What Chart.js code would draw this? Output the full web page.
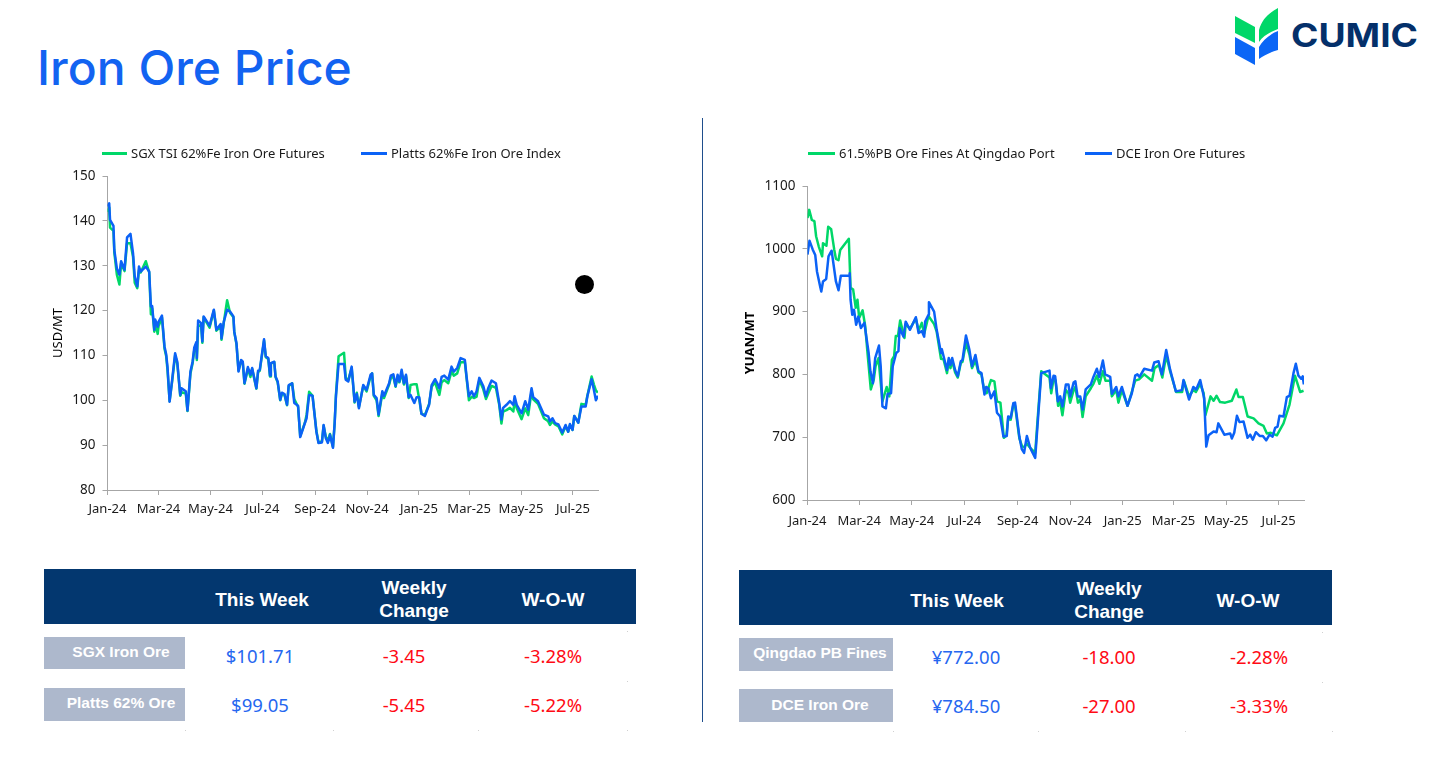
<!DOCTYPE html>
<html>
<head>
<meta charset="utf-8">
<title>Iron Ore Price</title>
<script src="https://cdn.jsdelivr.net/npm/chart.js"></script>
<style>
  html, body { margin: 0; padding: 0; background: #fff; }
  #page { position: relative; width: 1444px; height: 765px; overflow: hidden; font-family: "Noto Sans", sans-serif; }
  #page canvas { position: absolute; }
  .title { position: absolute; left: 37px; top: 36px; color: #1263f1; font: 500 48px Inter, sans-serif; line-height: 64px; white-space: nowrap; }
  .box { position: absolute; }
  .txt { position: absolute; transform: translate(-50%, -50%); white-space: nowrap; text-align: center; }
  .head { color: #fff; font: bold 19px/23px "Liberation Sans", sans-serif; }
  .name { color: #fff; font: bold 15.5px/20px "Liberation Sans", sans-serif; }
  .val { font: 400 18.5px/26px "Noto Sans", sans-serif; }
  .key { position: absolute; color: #1a1a1a; font: 13px/18px "Noto Sans", sans-serif; white-space: nowrap; }
</style>
</head>
<body>
<div id="page">
  <div class="title">Iron Ore Price</div>
  <svg class="box" style="left:1230px;top:5px" width="200" height="64" viewBox="1230 5 200 64">
    <polygon fill="#00d768" points="1235,16 1255,27 1255,43 1235,33"/>
    <path fill="#00d768" d="M1259,30 C1262,19 1269,13 1278,8 L1278,29 C1270,32 1263,36 1259,42 Z"/>
    <polygon fill="#0b66f6" points="1235,37 1255,48 1255,65 1235,54"/>
    <path fill="#0b66f6" d="M1259,47 C1263,40 1270,34 1278,31 L1278,50 C1270,52 1263,56 1259,59 Z"/>
    <text x="1291" y="46.5" textLength="127" lengthAdjust="spacingAndGlyphs" fill="#04306a" font-family="Inter" font-weight="700" font-size="32">CUMIC</text>
  </svg>
  <div class="box" style="left:702px;top:118px;width:1px;height:604px;background:#1f4e8c"></div>
  <canvas id="leftChart" width="622" height="380" style="left:0;top:140px"></canvas>
  <canvas id="rightChart" width="592" height="390" style="left:730px;top:140px"></canvas>
  <div class="box" style="left:575px;top:275px;width:19px;height:19px;border-radius:50%;background:#000"></div>
</div>
<script>
const tickDays = [0, 60, 121, 182, 244, 305, 366, 425, 486, 547];
const tickLabels = ["Jan-24", "Mar-24", "May-24", "Jul-24", "Sep-24", "Nov-24", "Jan-25", "Mar-25", "May-25", "Jul-25"];
const lastDay = 576.5;

const usdDays = [
  0,2,3,7,8,11,14,16,20,23,
  27,30,32,35,37,39,45,49,51,52.5,
  55,56,59,60,64,67,69,70.5,73,76,
  79.5,82,85.5,87,92,94,97.5,100,102,104.5,
  105,106.5,110,111.5,113,120,125,128,133,134,
  136.7,140.6,144,148,149,151.6,154,157,159,161,
  165,168,170,175,177,179,184,186,189,191,
  192,196,197.5,200,203,205,208,211,213,217,
  219.5,224,226.5,232,234,237,241,245.5,248,252,
  254,256.5,259,261.5,265,267,268.5,271.6,278,280,
  283,287,290.4,293,295.5,300.6,304.5,309.2,311,313,
  316.3,318.6,323,325,331,333,336,338.6,341,343,
  345.7,348.4,350.8,354,356.2,360.6,363.3,366.4,369,373,
  378,381,385,387.6,390,392.7,395.8,400.5,404.4,407,
  411,415,420,422,424.8,428,430.7,433.8,437,441.6,
  444.8,447.5,451.4,456.5,460.4,463,465,469,473,477,
  478.5,481,486.7,491,494.5,498.4,500.4,506,513,518,
  520,523,526,530,534.5,538.4,541.5,543.5,546.6,548.6,
  553.3,557,562,564,569,571.7,574,576.4
];
const plattsValues = [
  143.2,143.9,140.2,138.9,133.5,129.4,128,131,129.1,136.3,
  137.1,132.8,127.6,125.4,129.8,128.7,129.8,128.7,120.9,121,
  115.7,118,116.4,117.5,118.9,112,110.2,107.5,99.7,104.6,
  110.5,108.6,101.2,102.7,102,97.7,106.4,108.6,111.8,113,
  109.4,117.8,117.2,113.1,118.7,116.6,120.2,115.7,117,113.8,
  117.5,120.2,119.8,118.7,115.3,112.7,106.4,109,108.6,103.8,
  107.4,105.7,107.2,102.7,106.6,106.8,113.6,109.8,109.4,105.5,
  108.3,108.6,105.3,104.2,100.1,101.7,101.4,99,103.4,103.8,
  99.4,98.8,91.8,94.9,96,101.2,101,93,90.5,90.6,
  94.5,91.6,90.5,92.3,89.4,94.9,100.9,108.1,108.1,104.6,
  104.2,107.5,99.7,101.4,98.2,103.4,102.3,105.7,106,101.2,
  100.5,96.8,102,101,103.8,105.5,105.8,103.2,105.7,104.2,
  106.8,103.8,105.7,100.7,101.2,99.4,100.7,100.7,97,96.5,
  99,103.4,104.7,103.8,102.7,105.2,105.5,104.6,107.5,106.4,
  107.2,109.4,109,105.3,100.9,102,100.9,102,105,103.2,
  100.9,102.7,104.4,103.8,99.4,95.7,98.3,99,99.8,99,
  100.9,99,97.1,99.8,97.9,102.7,100.7,99.8,96.8,96.4,
  95.3,96,94.9,94.6,92.8,94.5,93,94.7,93.4,96.5,
  95,98.6,98.6,100.9,104.7,102.3,100,101
];
const sgxValues = [
  142,143,138.5,137.8,133,128,125.8,130.5,128.8,135,
  135,132,126.2,125,129,128.5,131,128.5,119.2,120.5,
  115.3,117.5,114.8,116.5,118.5,111.5,109.8,106.8,99.8,104.2,
  110,108.2,101,101.8,101.5,97.6,106,108.2,111.2,112.5,
  109,116.5,116.8,112.8,118.5,116.2,120,115.5,116.5,113.5,
  117.3,122.3,119.5,118.5,115.2,112.5,106.6,108.8,108.3,103.7,
  107,105.2,107,102.6,106.3,106.6,113.3,109.6,109.2,105.3,
  108.2,108.5,105.2,104,100,101.4,101.2,98.9,103.2,103.8,
  100.3,98.5,92,95,96.8,101.9,101,93.2,90.6,90.8,
  94.3,92,90.8,92.5,89.6,95,101.2,109.8,110.6,105,
  104.5,107.2,99.5,101.7,98.5,103.2,102,105.3,106,101,
  100,96.5,101.5,100.5,103.5,105,105.2,103,105.3,104,
  106,103.5,105.5,100.5,103.4,103.6,103.6,100.2,97,96.7,
  99.2,103,104,102.5,101.2,104,104.5,103.8,106.5,105.5,
  106,108.5,108.5,105,100,100.8,100.5,100.8,104.5,102.5,
  100.3,101.5,103.2,102.8,99,94.8,97.5,97.8,98.3,97.5,
  100,98.2,95.8,98.2,96.7,102,100.2,99.2,96,95.3,
  94.5,95.3,94.6,94.2,92.4,94.2,93,94.5,93.4,96.5,
  95,99.2,99,101,105.3,103.5,102.2,101.7
];

const dceDays = [
  0,2.3,6,9,11,14.7,16,18,21.7,24.4,
  28,33,36,38.7,48.4,49,50,52,54,56.5,
  59,62,66,71,73,76,78.6,83,85,87,
  91,93,97,99,103,105.6,107,111.5,114,119,
  125.8,129,132.7,135.5,136.6,140.5,141,147,150,155,
  156,158,162,164,166,168,171.4,174.5,178,180,
  184,188,191,195,198.5,202,205.5,207.4,210,213,
  217,220,223.7,227.5,231.4,233,236,239,241,246,
  248.8,251.5,254.7,258.6,264.4,267,271.4,281,282.6,285.7,
  287.6,290.7,293.4,296,300,303,305,309,311,313.6,
  316.7,319.4,323,329,332,336,338.7,343,345.7,351.5,
  353.4,358.5,361,365,371.6,376.6,380.5,383,385.5,391,
  400,402.6,407.6,411.5,416.5,421,427.7,434.7,436.6,443,
  448,451.3,456,460.6,463,465.7,471.5,475,477,484,
  490.8,492.7,495.5,498.6,501.6,506.3,511,514,517,520.6,
  525,528.7,532.6,536.5,540,543,545.8,548,552.7,556.6,
  559.7,564.3,567,570,573.2,575,576.3
];
const dceValues = [
  991,1013,999,990,964,940,932,948,952,988,
  997,948,934,957,957,961,919,895,903,879,
  892,874,882,834,805,786,826,846,813,749,
  746,769,770,813,834,837,874,860,884,871,
  891,866,869,860,884,895,915,900,871,834,
  840,829,807,826,815,826,807,797,821,823,
  862,839,813,831,805,802,768,780,778,762,
  773,739,733,701,702,733,731,754,755,701,
  681,675,702,683,667,717,802,806,778,798,
  797,757,765,749,784,784,765,787,789,765,
  765,744,776,784,796,809,796,822,800,796,
  769,780,765,780,750,770,798,800,796,809,
  806,819,821,800,839,808,773,775,791,760,
  780,776,791,762,685,703,709,708,722,704,
  706,698,707,734,724,725,699,704,696,708,
  702,702,695,704,701,715,717,734,733,764,
  766,802,817,798,793,797,784
];
const pbDays = [
  0,2,5,8,10,13,17,18,22,24,
  27.5,31,33,36,38,48,50,53,56,58,
  60,64,67,70,73.5,77,79,82.5,84,87,
  92,95,98,100.6,102.5,105,107.6,112.6,114,119,
  125.8,129,132.7,135.5,140.5,147,150,155,158,162,
  164,166,168,171.4,174.5,178,180,184,188,191,
  195,198.5,202,205.5,208,213,217,220,224,228,
  231,233,236,239,241,246,249,251.5,254.6,258,
  264.4,267,271.4,281,283,286,288,291,293,296,
  300,303,305,309,311,314,317,319.4,323,329,
  332,336,339,343,346,351.5,353.4,358.5,361,365,
  371.6,376.6,380.5,385,391,400,403,408,412,416.5,
  421,428,435,437,443,448,451,456,460,462,
  468,471.5,475,479,485,492.7,498,500.5,505.5,511,
  518,523.7,529.5,533.4,538,545,552.7,559.7,566,572,
  576
];
const pbValues = [
  1049,1062,1046,1044,1020,1004,988,1009,1005,1035,
  1031,999,984,982,998,1016,938,935,906,919,
  890,902,877,829,776,792,813,826,802,757,
  780,765,823,829,861,861,886,858,880,873,
  889,870,882,865,893,880,868,825,824,802,
  822,810,822,803,795,818,820,850,832,810,
  822,803,800,772,770,791,789,757,755,699,
  703,730,728,752,750,698,686,684,690,684,
  675,725,805,795,770,795,790,750,760,735,
  775,770,755,775,780,755,760,732,765,778,
  785,798,785,805,790,790,765,775,755,775,
  750,772,790,792,800,790,810,815,795,830,
  805,772,772,790,765,775,772,785,770,735,
  765,758,766,756,755,758,776,764,764,733,
  730,722,718,706,707,703,722,752,798,772,
  774
];

const leftTable = {
  headX: [262, 414, 553], headY: 598.5,
  nameX: 121, nameY: [652, 703], names: ["SGX Iron Ore", "Platts 62% Ore"],
  boxes: [44, 141, 637, 32, 688, 33], band: [44, 569, 592, 55],
  colX: [260, 404, 553], rowY: [656, 705],
  specks: [[627, 631], [627, 681], [185, 730], [333, 730], [478, 730], [627, 730]],
};
const rightTable = {
  headX: [957, 1109, 1248], headY: 600,
  nameX: 820, nameY: [653, 705], names: ["Qingdao PB Fines", "DCE Iron Ore"],
  boxes: [739, 154, 638, 33, 689, 33], band: [739, 570, 593, 55],
  colX: [966, 1109, 1259], rowY: [657, 706],
  specks: [[1322, 632], [1322, 682], [893, 731], [1038, 731], [1185, 731], [1332, 731]],
};
const leftRows = [["$101.71", "-3.45", "-3.28%"], ["$99.05", "-5.45", "-5.22%"]];
const rightRows = [["¥772.00", "-18.00", "-2.28%"], ["¥784.50", "-27.00", "-3.33%"]];
const headers = ["This Week", "Weekly<br>Change", "W-O-W"];

const GREEN = "#00d768";
const BLUE = "#0b62f6";
const AXIS = "#a6a6a6";
const FONT = "'Noto Sans', sans-serif";

function points(days, values) {
  return days.map((d, i) => ({ x: d, y: values[i] }));
}

function drawChart(id, cfg) {
  return new Chart(document.getElementById(id), {
    type: "line",
    data: {
      datasets: [
        { label: cfg.names[0], data: points(cfg.days[0], cfg.values[0]), borderColor: GREEN, backgroundColor: GREEN, order: 2 },
        { label: cfg.names[1], data: points(cfg.days[1], cfg.values[1]), borderColor: BLUE, backgroundColor: BLUE, order: 1 },
      ],
    },
    options: {
      responsive: false,
      animation: false,
      parsing: false,
      elements: { point: { radius: 0 }, line: { borderWidth: 2.5, tension: 0, borderJoinStyle: "round" } },
      layout: { padding: { left: 0, top: cfg.plotTop, bottom: 0, right: cfg.rightPad } },
      plugins: { tooltip: { enabled: false }, legend: { display: false } },
      scales: {
        x: {
          type: "linear",
          min: 0,
          max: lastDay,
          afterBuildTicks(scale) { scale.ticks = tickDays.map((v) => ({ value: v })); },
          afterFit(scale) { scale.height = 30; },
          border: { color: AXIS },
          grid: { drawOnChartArea: false, color: AXIS, tickLength: 5 },
          ticks: {
            autoSkip: false,
            maxRotation: 0,
            color: "#1a1a1a",
            padding: cfg.xTickPad,
            font: { family: FONT, size: 13 },
            callback(v, i) { return tickLabels[i]; },
          },
        },
        y: {
          min: cfg.yMin,
          max: cfg.yMax,
          afterFit(scale) { scale.width = cfg.yWidth; },
          border: { color: AXIS },
          grid: { drawOnChartArea: false, color: AXIS, tickLength: 5 },
          ticks: {
            stepSize: cfg.yStep,
            color: "#1a1a1a",
            padding: 7,
            font: { family: FONT, size: 13.5 },
            callback(v) { return String(v); },
          },
          title: {
            display: true,
            text: cfg.yTitle,
            color: "#000",
            padding: { top: cfg.titlePad, bottom: 0 },
            font: { family: FONT, size: 13, weight: cfg.yTitleWeight },
          },
        },
      },
    },
  });
}

function put(cls, html, x, y, color) {
  const el = document.createElement("div");
  el.className = "txt " + cls;
  el.innerHTML = html;
  el.style.left = x + "px";
  el.style.top = y + "px";
  if (color) el.style.color = color;
  document.getElementById("page").appendChild(el);
}

function rect(x, y, w, h, color) {
  const el = document.createElement("div");
  el.className = "box";
  el.style.cssText = `left:${x}px;top:${y}px;width:${w}px;height:${h}px;background:${color}`;
  document.getElementById("page").appendChild(el);
}

// legend sits in the page so the plot area can be placed exactly
function drawLegend(chart, spots) {
  chart.data.datasets.forEach((ds, i) => {
    const s = spots[i];
    rect(s[0], 152, s[1] - s[0], 2.6, ds.borderColor);
    const el = document.createElement("div");
    el.className = "key";
    el.textContent = ds.label;
    el.style.left = s[2] + "px";
    el.style.top = "144px";
    document.getElementById("page").appendChild(el);
  });
}

function drawTable(t, rows) {
  rect(t.band[0], t.band[1], t.band[2], t.band[3], "#03376f");
  headers.forEach((h, i) => put("head", h, t.headX[i], t.headY));
  rect(t.boxes[0], t.boxes[2], t.boxes[1], t.boxes[3], "#adb8cc");
  rect(t.boxes[0], t.boxes[4], t.boxes[1], t.boxes[5], "#adb8cc");
  t.names.forEach((n, i) => put("name", n, t.nameX, t.nameY[i]));
  rows.forEach((row, r) => {
    row.forEach((v, c) => put("val", v, t.colX[c], t.rowY[r], c === 0 ? "#2667f0" : "#ff0a14"));
  });
  t.specks.forEach((p) => rect(p[0], p[1], 1, 1, "#d0d0d0"));
}

const leftChart = drawChart("leftChart", {
  names: ["SGX TSI 62%Fe Iron Ore Futures", "Platts 62%Fe Iron Ore Index"],
  days: [usdDays, usdDays],
  values: [sgxValues, plattsValues],
  yMin: 80, yMax: 150, yStep: 10, yTitle: "USD/MT", yTitleWeight: "normal", titlePad: 50,
  yWidth: 107.5, plotTop: 36, rightPad: 24, xTickPad: 6,
});
const rightChart = drawChart("rightChart", {
  names: ["61.5%PB Ore Fines At Qingdao Port", "DCE Iron Ore Futures"],
  days: [pbDays, dceDays],
  values: [pbValues, dceValues],
  yMin: 600, yMax: 1100, yStep: 100, yTitle: "YUAN/MT", yTitleWeight: "bold", titlePad: 12,
  yWidth: 77.5, plotTop: 46, rightPad: 18, xTickPad: 8,
});
drawLegend(leftChart, [[102, 127, 131], [361, 387, 391]]);
drawLegend(rightChart, [[808, 835, 839], [1085, 1112, 1116]]);
drawTable(leftTable, leftRows);
drawTable(rightTable, rightRows);
</script>
</body>
</html>
